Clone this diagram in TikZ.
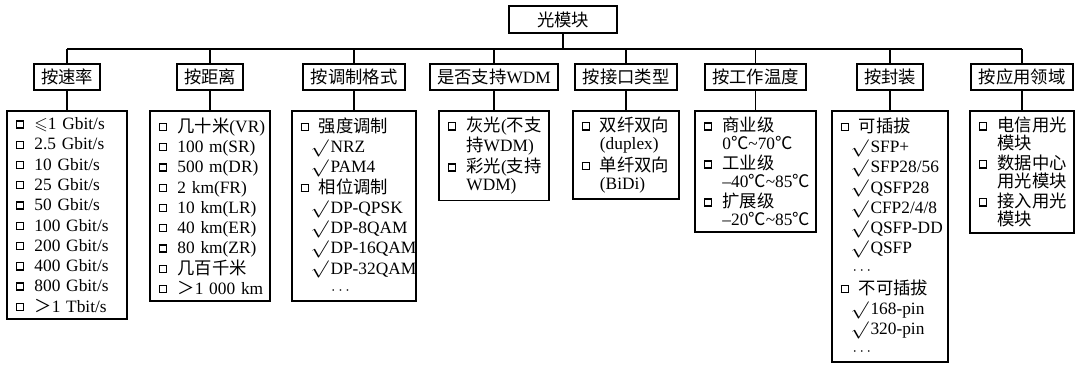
\documentclass[tikz,border=0pt]{standalone}
\usepackage{fontspec}
\usepackage{amssymb}
\usetikzlibrary{positioning}
\setmainfont{Liberation Serif}
\newfontfamily\cjk{Noto Sans CJK SC}
\newcommand\zh[1]{{\cjk #1}}
% small hollow square before each item
\newcommand\bx{\raisebox{1.8pt}{\fboxsep=0pt\fboxrule=1pt\fbox{\rule{0pt}{4.3pt}\hspace{4.3pt}}}\kern7.5pt}
\newcommand\nx{\phantom{\bx}}
\newcommand\ck{\hspace*{7.5pt}\smash{\scalebox{1.35}[1.08]{$\surd$}}\kern1.5pt}
\newcommand\etc[1]{\hspace*{#1}$\cdots$}
\exhyphenpenalty=10000
\hyphenpenalty=10000

\begin{document}
\begin{tikzpicture}[x=0.75pt, y=-0.75pt,
    top/.style={draw, line width=1.4pt, minimum width=81pt, minimum height=20.5pt, font=\fontsize{13}{15}\selectfont\cjk},
    cat/.style={draw, line width=1.4pt, inner xsep=5.5pt, minimum height=19pt, font=\fontsize{13}{15}\selectfont\cjk},
    lst/.style={draw, line width=1.4pt, inner xsep=6.5pt, inner ysep=5pt, align=left, font=\fontsize{13}{15.2}\selectfont},
    lstw/.style={lst, inner ysep=4.5pt, font=\fontsize{13}{13.5}\selectfont},
    link/.style={line width=0.8pt}]
  \useasboundingbox (0,0) rectangle (1080,376);
  \coordinate (bus) at (0,49);

  \node[top] (root) at (563,19.5) {光模块};

  \node[cat] (c1) at (67,77) {按速率};
  \node[cat] (c2) at (210,77) {按距离};
  \node[cat] (c3) at (354,77) {按调制格式};
  \node[cat] (c4) at (494,77) {是否支持{\rmfamily WDM}};
  \node[cat] (c5) at (626,77) {按接口类型};
  \node[cat] (c6) at (755.5,77) {按工作温度};
  \node[cat] (c7) at (890,77) {按封装};
  \node[cat] (c8) at (1022,77) {按应用领域};

  \node[lst, text width=76.4pt, below=14.6pt of c1] (b1) {\bx$\leqslant$1 Gbit/s\\ \bx 2.5 Gbit/s\\ \bx 10 Gbit/s\\ \bx 25 Gbit/s\\ \bx 50 Gbit/s\\ \bx 100 Gbit/s\\ \bx 200 Gbit/s\\ \bx 400 Gbit/s\\ \bx 800 Gbit/s\\ \bx\zh{＞}1 Tbit/s};
  \node[lst, text width=76.4pt, below=14.6pt of c2] (b2) {\bx\zh{几十米}(VR)\\ \bx 100 m(SR)\\ \bx 500 m(DR)\\ \bx 2 km(FR)\\ \bx 10 km(LR)\\ \bx 40 km(ER)\\ \bx 80 km(ZR)\\ \bx\zh{几百千米}\\ \bx\zh{＞}1~000~km};
  \node[lst, text width=80.2pt, below=14.6pt of c3] (b3) {\bx\zh{强度调制}\\ \ck NRZ\\ \ck PAM4\\ \bx\zh{相位调制}\\ \ck DP-QPSK\\ \ck DP-8QAM\\ \ck DP-16QAM\\ \ck DP-32QAM\\ \etc{23pt}};
  \node[lstw, text width=69pt, below=14.6pt of c4] (b4) {\bx\zh{灰光}(\zh{不支}\\ \nx\zh{持}WDM)\\[1.5pt] \bx\zh{彩光}(\zh{支持}\\ \nx WDM)};
  \node[lstw, text width=66.7pt, below=14.6pt of c5] (b5) {\bx\zh{双纤双向}\\ \nx(duplex)\\[1.5pt] \bx\zh{单纤双向}\\ \nx(BiDi)};
  \node[lstw, text width=77.2pt, below=14.6pt of c6] (b6) {\bx\zh{商业级}\\ \nx 0\zh{℃}\textasciitilde 70\zh{℃}\\[1.5pt] \bx\zh{工业级}\\ \nx--40\zh{℃}\textasciitilde 85\zh{℃}\\[1.5pt] \bx\zh{扩展级}\\ \nx--20\zh{℃}\textasciitilde 85\zh{℃}};
  \node[lst, text width=74.2pt, below=14.6pt of c7] (b7) {\bx\zh{可插拔}\\ \ck SFP+\\ \ck SFP28/56\\ \ck QSFP28\\ \ck CFP2/4/8\\ \ck QSFP-DD\\ \ck QSFP\\ \etc{9pt}\\ \bx\zh{不可插拔}\\ \ck 168-pin\\ \ck 320-pin\\ \etc{9pt}};
  \node[lstw, text width=64.5pt, below=14.6pt of c8] (b8) {\bx\zh{电信用光}\\ \nx\zh{模块}\\[1.5pt] \bx\zh{数据中心}\\ \nx\zh{用光模块}\\[1.5pt] \bx\zh{接入用光}\\ \nx\zh{模块}};

  % tree lines
  \draw[link] (root.south) -- (root.south |- bus);
  \draw[link] (c1.north |- bus) -- (c8.north |- bus);
  \foreach \i in {1,...,8} {
    \draw[link] (c\i.north) -- (c\i.north |- bus);
    \draw[link] (c\i.south) -- (b\i.north);
  }
\end{tikzpicture}
\end{document}
